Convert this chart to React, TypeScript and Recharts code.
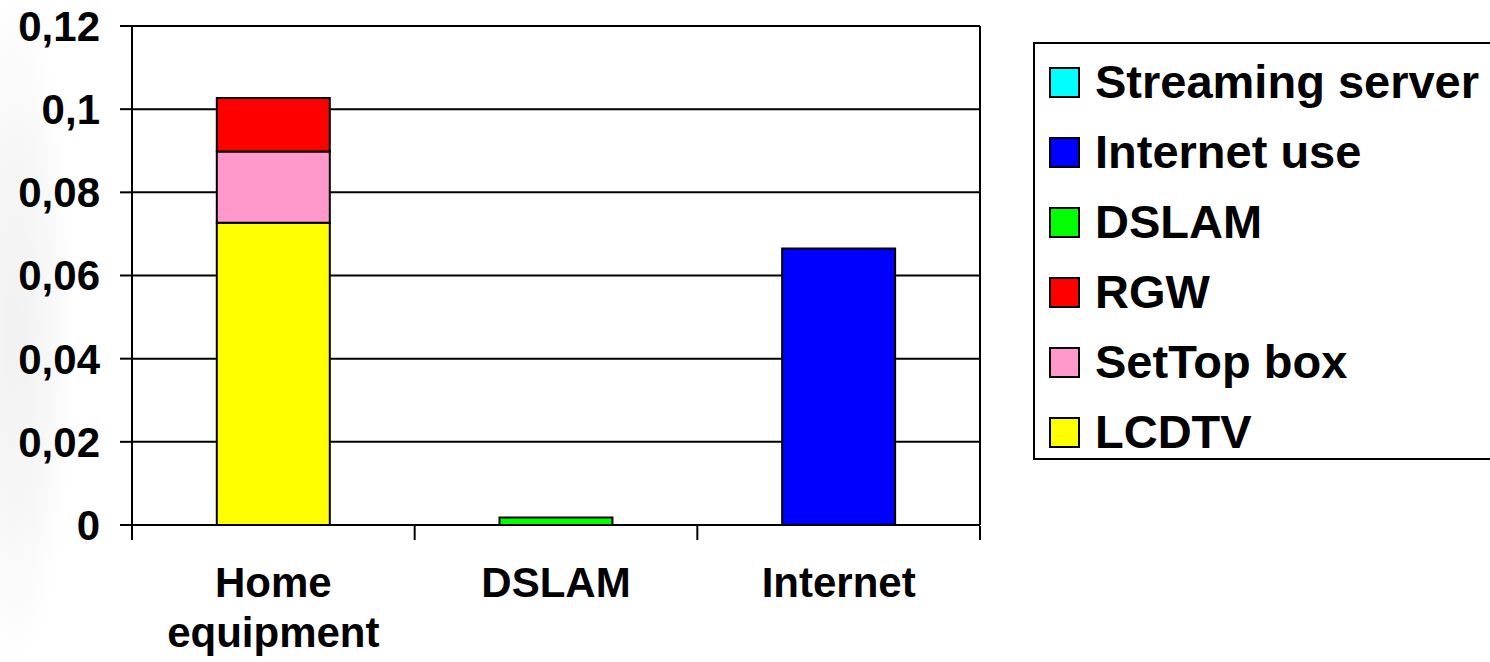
import React from 'react';
import { BarChart, Bar, XAxis, YAxis, CartesianGrid } from 'recharts';

// categories on the x axis
const categories = ['Home equipment', 'DSLAM', 'Internet'];

// series values, one per category
const lcdtv = [0.0727, 0, 0];
const setTopBox = [0.0171, 0, 0];
const rgw = [0.0129, 0, 0];
const dslam = [0, 0.0018, 0];
const internetUse = [0, 0, 0.0665];
const streamingServer = [0, 0, 0];

const yTicks = [0, 0.02, 0.04, 0.06, 0.08, 0.1, 0.12];
const edgeTicks = [0, 1, 2, 3];

// stacking order, bottom to top
const series = [
  { key: 'lcdtv', name: 'LCDTV', values: lcdtv, color: '#FFFF00' },
  { key: 'setTopBox', name: 'SetTop box', values: setTopBox, color: '#FF99CC' },
  { key: 'rgw', name: 'RGW', values: rgw, color: '#FF0000' },
  { key: 'dslam', name: 'DSLAM', values: dslam, color: '#00FF00' },
  { key: 'internetUse', name: 'Internet use', values: internetUse, color: '#0000FF' },
  { key: 'streamingServer', name: 'Streaming server', values: streamingServer, color: '#00FFFF' },
];

const data = categories.map((name, i) => {
  const row: Record<string, string | number> = { name, edge: i + 0.5 };
  series.forEach((s) => {
    row[s.key] = s.values[i];
  });
  return row;
});

const FONT = '"Liberation Sans", Arial, sans-serif';

const CategoryTick = (props: any) => {
  const { x, y, payload } = props;
  const words = String(payload.value).split(' ');
  return (
    <text
      x={x}
      y={y}
      textAnchor="middle"
      fontFamily={FONT}
      fontWeight="bold"
      fontSize={42}
      fill="#000"
    >
      {words.map((w, i) => (
        <tspan key={i} x={x} dy={i === 0 ? 72 : 50}>
          {w}
        </tspan>
      ))}
    </text>
  );
};

const EmptyTick = () => <g />;

export default function App() {
  return (
    <div
      style={{
        position: 'absolute',
        left: 0,
        top: 0,
        width: 1490,
        height: 662,
        overflow: 'hidden',
        background:
          'radial-gradient(ellipse 60px 340px at 15px 330px, #f1f1f1 0%, #f7f7f7 55%, #ffffff 100%)',
      }}
    >
      <BarChart
        width={1490}
        height={662}
        data={data}
        margin={{ top: 26, right: 509, bottom: 135, left: 0 }}
        barCategoryGap="30%"
      >
        <CartesianGrid vertical={false} stroke="#000" strokeWidth={2} />
        <XAxis
          dataKey="name"
          height={1}
          tickSize={0}
          tickMargin={0}
          tickLine={false}
          axisLine={{ stroke: '#000', strokeWidth: 2 }}
          tick={<CategoryTick />}
          interval={0}
        />
        <XAxis
          xAxisId="edges"
          dataKey="edge"
          type="number"
          domain={[0, 3]}
          ticks={edgeTicks}
          allowDataOverflow
          height={1}
          tickSize={14}
          tick={EmptyTick}
          tickLine={{ stroke: '#000', strokeWidth: 2 }}
          axisLine={false}
        />
        <YAxis
          domain={[0, 0.12]}
          ticks={yTicks}
          width={132}
          tickSize={12}
          tickMargin={20}
          tickFormatter={(v: number) => String(v).replace('.', ',')}
          axisLine={{ stroke: '#000', strokeWidth: 2 }}
          tickLine={{ stroke: '#000', strokeWidth: 2 }}
          tick={{ fill: '#000', fontSize: 42, fontWeight: 'bold', fontFamily: FONT }}
        />
        <YAxis
          yAxisId="right"
          orientation="right"
          width={1}
          domain={[0, 0.12]}
          tick={false}
          tickLine={false}
          axisLine={{ stroke: '#000', strokeWidth: 2 }}
        />
        {series.map((s) => (
          <Bar
            key={s.key}
            dataKey={s.key}
            name={s.name}
            stackId="a"
            fill={s.color}
            stroke="#000"
            strokeWidth={2}
            isAnimationActive={false}
          />
        ))}
      </BarChart>
      <div
        style={{
          position: 'absolute',
          left: 1033,
          top: 42,
          width: 500,
          height: 418,
          boxSizing: 'border-box',
          border: '2px solid #000',
          background: '#fff',
          paddingTop: 10,
          paddingLeft: 14,
          fontFamily: FONT,
          fontWeight: 'bold',
          fontSize: 47,
          color: '#000',
        }}
      >
        {[...series].reverse().map((s) => (
          <div
            key={s.key}
            style={{ display: 'flex', alignItems: 'center', height: 56, marginBottom: 14 }}
          >
            <span
              style={{
                display: 'inline-block',
                width: 31,
                height: 31,
                boxSizing: 'border-box',
                border: '2px solid #000',
                background: s.color,
                marginRight: 15,
                flexShrink: 0,
              }}
            />
            <span style={{ whiteSpace: 'nowrap', lineHeight: '56px' }}>{s.name}</span>
          </div>
        ))}
      </div>
    </div>
  );
}
